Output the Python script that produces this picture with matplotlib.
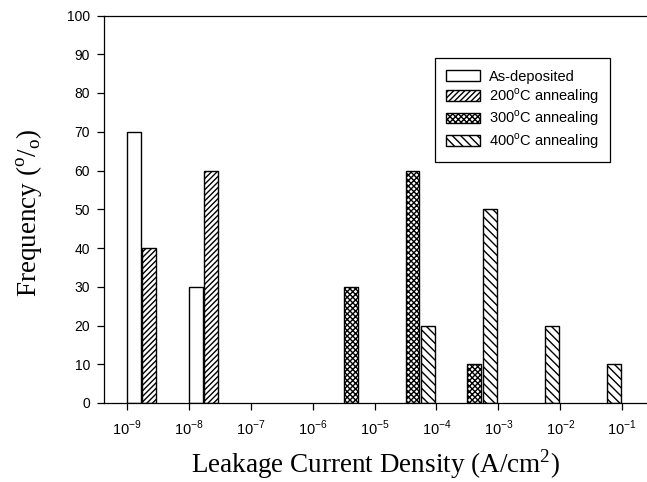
import numpy as np
import matplotlib
matplotlib.use("Agg")
import matplotlib.pyplot as plt

plt.rcParams["font.family"] = ["Liberation Sans", "DejaVu Sans"]
plt.rcParams["mathtext.fontset"] = "custom"
plt.rcParams["mathtext.rm"] = "Liberation Serif"
plt.rcParams["mathtext.sf"] = "Liberation Sans"
plt.rcParams["hatch.linewidth"] = 1.0

# ── data: frequency (%) per leakage-current decade bin ────────────────────────
bins = [-9, -8, -7, -6, -5, -4, -3, -2]          # log10 of bin start (A/cm2)
as_deposited = [70, 30, 0, 0, 0, 0, 0, 0]
anneal_200 = [40, 60, 0, 0, 0, 0, 0, 0]
anneal_300 = [0, 0, 0, 30, 60, 10, 0, 0]
anneal_400 = [0, 0, 0, 0, 20, 50, 20, 10]

tick_exp = [-9, -8, -7, -6, -5, -4, -3, -2, -1]

series = [
    ("As-deposited", as_deposited, ""),
    ("200$^{\\mathsf{o}}$C annealing", anneal_200, "//////"),
    ("300$^{\\mathsf{o}}$C annealing", anneal_300, "xxxxxx"),
    ("400$^{\\mathsf{o}}$C annealing", anneal_400, "\\\\\\\\"),
]

# ── plot ──────────────────────────────────────────────────────────────────────
fig = plt.figure(figsize=(6.47, 4.82), dpi=100)
ax = fig.add_axes([104 / 647, 1 - 403 / 482, 543 / 647, 387.5 / 482])
ax.set_xscale("log")

slot, bw = 0.25, 0.225
for i, (label, vals, hatch) in enumerate(series):
    b = np.array(bins, dtype=float)
    v = np.array(vals, dtype=float)
    keep = v > 0
    left = b[keep] + slot * i
    x0 = 10 ** left
    w = 10 ** (left + bw) - x0
    ax.bar(x0, v[keep], width=w, align="edge", facecolor="white",
           edgecolor="black", linewidth=1.0, hatch=hatch, label=label)

ax.set_xlim(10 ** -9.37, 10 ** -0.6)
ax.set_ylim(0, 100)
ax.set_yticks(range(0, 101, 10))
ax.set_xticks([10.0 ** e for e in tick_exp],
              [f"10$^{{\\mathsf{{{e}}}}}$" for e in tick_exp])
ax.xaxis.set_minor_locator(matplotlib.ticker.NullLocator())
ax.tick_params(axis="both", direction="out", length=5, width=0.9,
               labelsize=10, pad=5)
ax.tick_params(axis="x", labelsize=10.5, pad=6)
ax.spines["right"].set_visible(False)
for s in ["left", "bottom", "top"]:
    ax.spines[s].set_linewidth(0.9)

ax.set_xlabel("Leakage Current Density (A/cm$^{\\mathrm{2}}$)",
              family="Liberation Serif", fontsize=19.5)
ax.set_ylabel("Frequency ($^{\\mathrm{o}}/_{\\mathrm{o}}$)",
              family="Liberation Serif", fontsize=19.5)
ax.xaxis.set_label_coords(0.5, -0.113)
ax.yaxis.set_label_coords(-0.11, 0.49)

leg = ax.legend(loc="upper right", bbox_to_anchor=(0.932, 0.890),
                borderaxespad=0, fontsize=10.5, fancybox=False,
                edgecolor="black", framealpha=1, handlelength=2.3,
                handleheight=0.75, labelspacing=0.18, handletextpad=0.6,
                borderpad=0.8)
leg.get_frame().set_linewidth(0.9)

plt.savefig("out.png", dpi=100)
